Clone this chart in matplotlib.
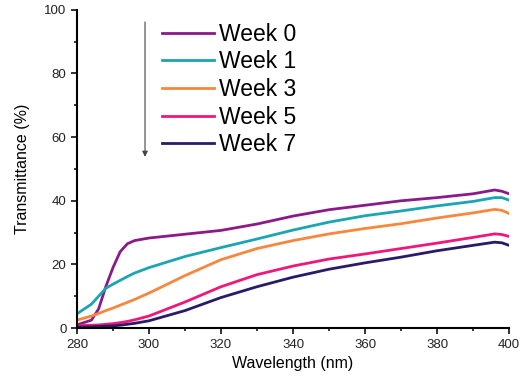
import matplotlib
matplotlib.use('Agg')
import matplotlib.pyplot as plt
from matplotlib.ticker import MultipleLocator

plt.rcParams['font.family'] = ['Liberation Sans', 'DejaVu Sans']

# Wavelength (nm) sampling points
wavelength = [280, 284, 286, 288, 290, 292, 294, 296, 300, 310, 320, 330,
              340, 350, 360, 370, 380, 390, 396, 398, 400]

# Transmittance (%) per week
week0 = [1.0, 2.5, 6, 13, 19, 24, 26.5, 27.5, 28.3, 29.5, 30.7, 32.7,
         35.2, 37.2, 38.6, 40.0, 41.0, 42.2, 43.4, 43.0, 42.2]
week1 = [4.5, 7.5, 10, 12.5, 13.8, 15, 16.2, 17.3, 19, 22.5, 25.3, 28,
         30.8, 33.3, 35.3, 36.8, 38.4, 39.8, 41.0, 41.0, 40.2]
week3 = [2.5, 3.8, 4.6, 5.5, 6.3, 7.2, 8.1, 9, 11, 16.5, 21.5, 25,
         27.5, 29.6, 31.3, 32.8, 34.6, 36.2, 37.3, 37.0, 36.0]
week5 = [0.7, 0.9, 1.0, 1.2, 1.4, 1.7, 2.1, 2.6, 3.8, 8.2, 13, 16.8,
         19.5, 21.7, 23.3, 25.0, 26.7, 28.5, 29.6, 29.4, 28.8]
week7 = [0.3, 0.4, 0.5, 0.6, 0.7, 0.9, 1.2, 1.5, 2.3, 5.5, 9.6, 13,
         16, 18.5, 20.5, 22.3, 24.3, 26.0, 27.0, 26.8, 26.0]

series = [week0, week1, week3, week5, week7]
labels = ['Week 0', 'Week 1', 'Week 3', 'Week 5', 'Week 7']
colores = ['#8b1a88', '#1ba5b4', '#f7873c', '#ef1878', '#2a1a6a']

fig = plt.figure(figsize=(5.2, 3.78), dpi=100)
ax = fig.add_axes([0.148, 0.132, 0.831, 0.842])

for y, lab, c in zip(series, labels, colores):
    ax.plot(wavelength, y, color=c, lw=2, label=lab)

ax.set_xlim(280, 400)
ax.set_ylim(0, 100)
ax.xaxis.set_major_locator(MultipleLocator(20))
ax.xaxis.set_minor_locator(MultipleLocator(10))
ax.yaxis.set_major_locator(MultipleLocator(20))
ax.yaxis.set_minor_locator(MultipleLocator(10))

for s in ['top', 'right']:
    ax.spines[s].set_visible(False)
for s in ['left', 'bottom']:
    ax.spines[s].set_linewidth(1.5)

ax.tick_params(which='major', direction='out', length=4, width=1.3, labelsize=9.5, colors='#222222')
ax.tick_params(which='minor', direction='out', length=2.5, width=1.1)

ax.set_xlabel('Wavelength (nm)', fontsize=11.5, labelpad=4)
ax.set_ylabel('Transmittance (%)', fontsize=11.5, labelpad=10)

# Flecha indicando el paso del tiempo
ax.annotate('', xy=(298.9, 53.8), xytext=(298.9, 96.2),
            arrowprops=dict(arrowstyle='-|>', color='#444444', lw=0.8,
                            mutation_scale=8, shrinkA=0, shrinkB=0))

ax.legend(loc='upper left', bbox_to_anchor=(0.197, 0.959), frameon=False,
          fontsize=16.5, handlelength=2.25, handletextpad=0.25,
          labelspacing=0.2, borderpad=0, borderaxespad=0)

fig.savefig('out.png', dpi=100)
